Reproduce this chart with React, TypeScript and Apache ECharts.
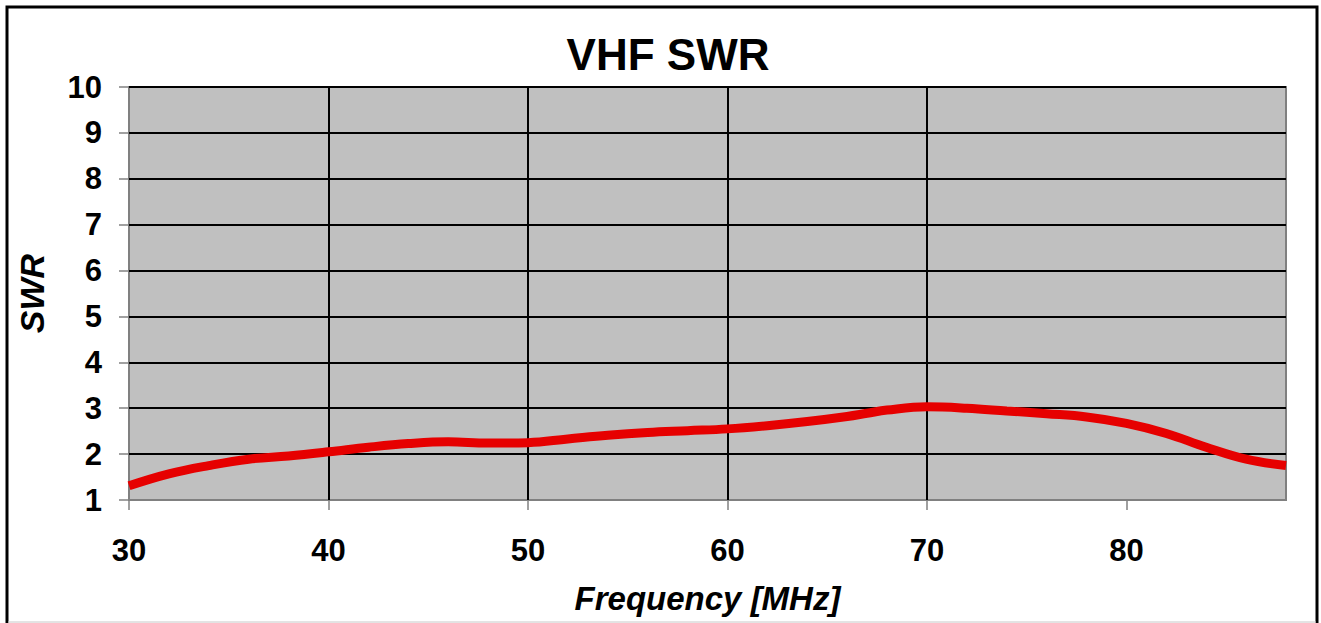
import React, { useEffect, useRef } from "react";
import * as echarts from "echarts";

const freqMHz = [30, 32, 34, 36, 38, 40, 42, 44, 46, 48, 50, 52, 54, 56, 58, 60, 62, 64, 66, 67, 68, 70, 72, 74, 76, 78, 80, 82, 84, 86, 88];
const swrValues = [1.31, 1.57, 1.75, 1.89, 1.96, 2.05, 2.15, 2.23, 2.27, 2.24, 2.25, 2.33, 2.41, 2.47, 2.51, 2.55, 2.62, 2.71, 2.82, 2.89, 2.96, 3.03, 3.0, 2.94, 2.88, 2.81, 2.67, 2.45, 2.15, 1.89, 1.75];
const xTickValues = [30, 40, 50, 60, 70, 80];
const titleText = "VHF SWR";
const xAxisTitle = "Frequency [MHz]";
const yAxisTitle = "SWR";

const FONT = "'Liberation Sans', Arial, sans-serif";

export default function App() {
  const ref = useRef<HTMLDivElement>(null);
  useEffect(() => {
    if (!ref.current) return;
    const chart = echarts.init(ref.current, undefined, { renderer: "svg" });
    const data = freqMHz.map((f, i) => [f, swrValues[i]]);
    chart.setOption({
      animation: false,
      backgroundColor: "#ffffff",
      title: {
        text: titleText,
        left: 663,
        textAlign: "center",
        top: 27,
        textStyle: { fontFamily: FONT, fontSize: 44, fontWeight: "bold", color: "#000" },
      },
      grid: {
        left: 129,
        top: 87,
        right: 35,
        bottom: 123,
        show: true,
        backgroundColor: "#c0c0c0",
        borderColor: "#808080",
        borderWidth: 2,
      },
      xAxis: {
        type: "value",
        min: 30,
        max: 88,
        interval: 10,
        name: xAxisTitle,
        nameLocation: "middle",
        nameGap: 82,
        nameTextStyle: { fontFamily: FONT, fontSize: 33, fontWeight: "bold", fontStyle: "italic", color: "#000" },
        axisLine: { show: false },
        axisTick: { show: true, length: 10, customValues: xTickValues, lineStyle: { color: "#808080", width: 1.5 } },
        axisLabel: {
          customValues: xTickValues,
          margin: 35,
          fontFamily: FONT,
          fontSize: 31,
          fontWeight: "bold",
          color: "#000",
        },
        splitLine: { show: true, showMinLine: false, showMaxLine: false, lineStyle: { color: "#000", width: 2 } },
      },
      yAxis: {
        type: "value",
        min: 1,
        max: 10,
        interval: 1,
        name: yAxisTitle,
        nameLocation: "middle",
        nameGap: 80,
        nameRotate: 90,
        nameTextStyle: { fontFamily: FONT, fontSize: 34, fontWeight: "bold", fontStyle: "italic", color: "#000" },
        axisLine: { show: false },
        axisTick: { show: true, length: 10, lineStyle: { color: "#808080", width: 1.5 } },
        axisLabel: { margin: 27, fontFamily: FONT, fontSize: 31, fontWeight: "bold", color: "#000" },
        splitLine: { show: true, showMinLine: false, lineStyle: { color: "#000", width: 2 } },
      },
      graphic: [
        {
          type: "rect",
          shape: { x: 7, y: 7, width: 1310, height: 630 },
          style: { fill: "none", stroke: "#000", lineWidth: 3 },
          silent: true,
        },
        {
          type: "line",
          shape: { x1: 8, y1: 622, x2: 1316, y2: 622 },
          style: { stroke: "#c8c8c8", lineWidth: 1 },
          silent: true,
        },
      ],
      series: [
        {
          type: "line",
          data,
          smooth: 0.4,
          showSymbol: false,
          symbol: "none",
          lineStyle: { color: "#e60000", width: 9 },
          z: 5,
        },
      ],
    });
    return () => chart.dispose();
  }, []);
  return <div ref={ref} style={{ position: "fixed", left: 0, top: 0, width: 1321, height: 623 }} />;
}
